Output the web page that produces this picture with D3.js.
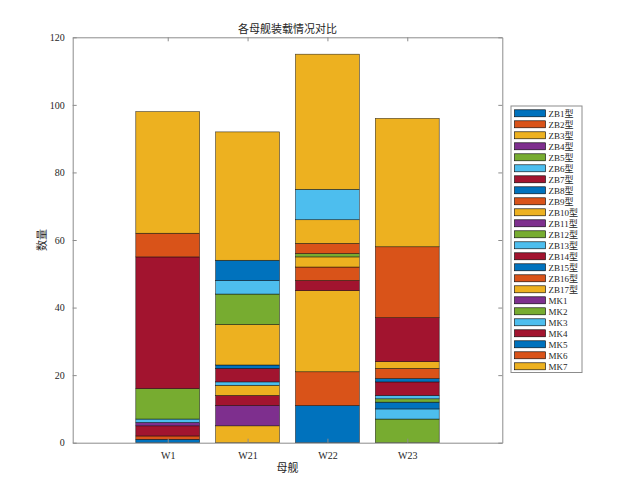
<!DOCTYPE html>
<html>
<head>
<meta charset="utf-8">
<script src="https://cdn.jsdelivr.net/npm/d3@7"></script>
<style>
  body { margin: 0; background: #fff; }
  text { font-family: "Liberation Serif", "DejaVu Serif", "Noto Sans CJK SC", serif; fill: #262626; }
</style>
</head>
<body>
<script>
// ships on the x axis
var ships = ["W1", "W21", "W22", "W23"];

// stack series, bottom to top
var seriesNames = ["ZB1型","ZB2型","ZB3型","ZB4型","ZB5型","ZB6型","ZB7型","ZB8型","ZB9型",
                   "ZB10型","ZB11型","ZB12型","ZB13型","ZB14型","ZB15型","ZB16型","ZB17型",
                   "MK1","MK2","MK3","MK4","MK5","MK6","MK7"];

// counts per ship, same order as seriesNames
var w1  = [1,1,0,0,0,0,3,0,0,0,1,0,1,0,0,0,0,0,9,0,39,0,7,36];
var w21 = [0,0,5,6,0,0,3,0,0,3,0,0,1,4,1,0,12,0,9,4,0,6,0,38];
var w22 = [11,10,24,0,0,0,3,0,4,3,0,1,0,0,0,3,7,0,0,9,0,0,0,40];
var w23 = [0,0,0,0,7,3,0,2,0,0,0,1,1,4,1,3,2,0,0,0,13,0,21,38];

var yTicks = [0, 20, 40, 60, 80, 100, 120];

var palette = ["#0072BD","#D95319","#EDB120","#7E2F8E","#77AC30","#4DBEEE","#A2142F"];

var W = 633, H = 498;
var margin = {left: 72.7, top: 37.3, right: 130.7, bottom: 55.3};
var frame_w = W - margin.left - margin.right;
var frame_h = H - margin.top - margin.bottom;

var rows = [w1, w21, w22, w23];
var table = ships.map(function (s, i) {
    var o = {ship: s, pos: i + 1};
    seriesNames.forEach(function (n, j) { o[n] = rows[i][j]; });
    return o;
});

var stacked = d3.stack().keys(seriesNames)(table);

var xScale = d3.scaleLinear().domain([-0.19, 5.19]).range([0, frame_w]);
var yScale = d3.scaleLinear().domain([0, 120]).range([frame_h, 0]);
var color = d3.scaleOrdinal().domain(seriesNames)
    .range(seriesNames.map(function (d, i) { return palette[i % 7]; }));

var svg = d3.select("body").append("svg").attr("width", W).attr("height", H);
var g = svg.append("g").attr("transform", "translate(" + margin.left + "," + margin.top + ")");

var barW = xScale(0.8) - xScale(0);

// bars
g.selectAll("g.layer").data(stacked).enter().append("g")
    .attr("class", "layer")
    .attr("fill", function (d) { return color(d.key); })
    .selectAll("rect")
    .data(function (d) { return d.filter(function (p) { return p[1] > p[0]; }); })
    .enter().append("rect")
    .attr("x", function (d) { return xScale(d.data.pos) - barW / 2; })
    .attr("y", function (d) { return yScale(d[1]); })
    .attr("width", barW)
    .attr("height", function (d) { return yScale(d[0]) - yScale(d[1]); })
    .attr("stroke", "#000")
    .attr("stroke-opacity", 0.75)
    .attr("stroke-width", 0.6);

// axes
var axisColor = "#8c8c8c";
var xAxis = d3.axisBottom(xScale).tickValues([1, 2, 3, 4])
    .tickFormat(function (d) { return ships[d - 1]; })
    .tickSizeInner(-4).tickSizeOuter(0).tickPadding(9);
var xTop = d3.axisTop(xScale).tickValues([1, 2, 3, 4]).tickFormat("")
    .tickSizeInner(-4).tickSizeOuter(0);
var yAxis = d3.axisLeft(yScale).tickValues(yTicks)
    .tickSizeInner(-4).tickSizeOuter(0).tickPadding(8);
var yRight = d3.axisRight(yScale).tickValues(yTicks).tickFormat("")
    .tickSizeInner(-4).tickSizeOuter(0);

function styleAxis(sel) {
    sel.selectAll("path, line").attr("stroke", axisColor);
    sel.selectAll("text").attr("fill", "#262626")
        .style("font-size", "10px");
}

g.append("g").attr("transform", "translate(0," + frame_h + ")").call(xAxis).call(styleAxis);
g.append("g").call(xTop).call(styleAxis);
g.append("g").call(yAxis).call(styleAxis);
g.append("g").attr("transform", "translate(" + frame_w + ",0)").call(yRight).call(styleAxis);

// titles
g.append("text")
    .attr("x", frame_w / 2).attr("y", -4)
    .style("text-anchor", "middle").style("font-size", "11px")
    .text("各母舰装载情况对比");

g.append("text")
    .attr("x", frame_w / 2).attr("y", frame_h + 29)
    .style("text-anchor", "middle").style("font-size", "11px")
    .text("母舰");

g.append("text")
    .attr("transform", "rotate(-90)")
    .attr("x", -frame_h / 2).attr("y", -27)
    .style("text-anchor", "middle").style("font-size", "11px")
    .text("数量");

// legend
var lg = svg.append("g").attr("transform", "translate(511,106)");
lg.append("rect")
    .attr("width", 71).attr("height", 266.5)
    .attr("fill", "#fff").attr("stroke", axisColor).attr("stroke-width", 1);

var item = lg.selectAll("g.item").data(seriesNames).enter().append("g")
    .attr("class", "item")
    .attr("transform", function (d, i) { return "translate(0," + (7.3 + i * 11) + ")"; });

item.append("rect")
    .attr("x", 3.5).attr("y", -3.5).attr("width", 31).attr("height", 7)
    .attr("fill", function (d) { return color(d); })
    .attr("stroke", "#000").attr("stroke-width", 0.6);

item.append("text")
    .attr("x", 37.5).attr("y", 3.3)
    .style("font-size", "9px")
    .text(function (d) { return d; });
</script>
</body>
</html>
